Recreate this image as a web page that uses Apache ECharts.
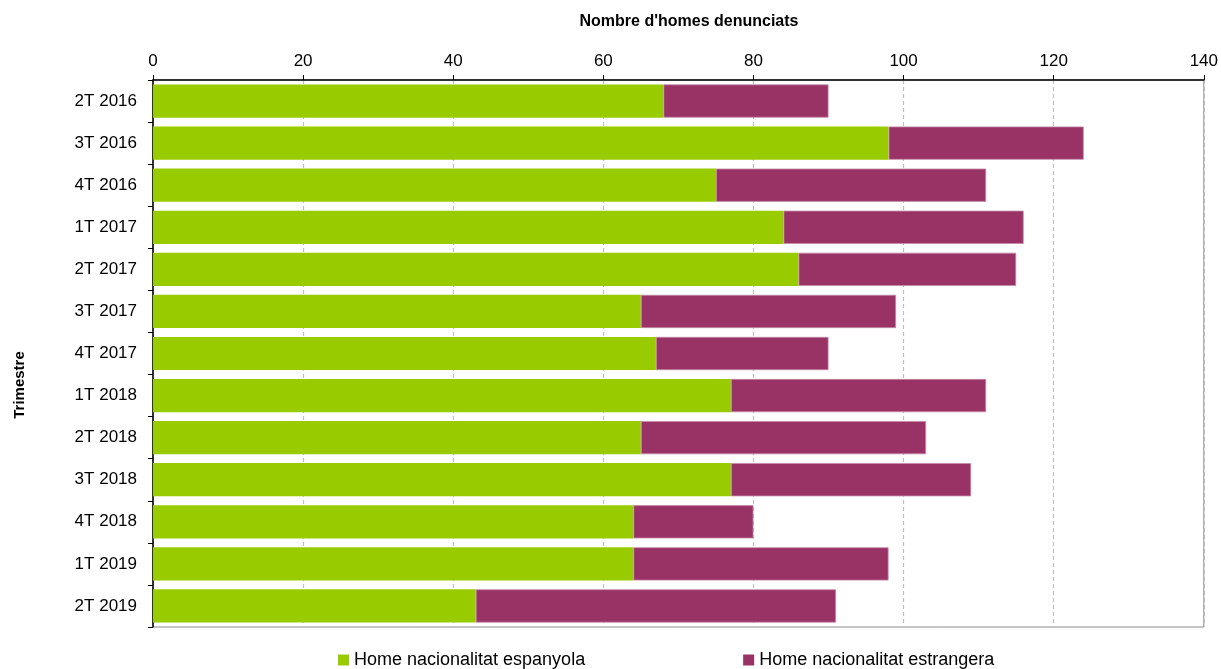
<!DOCTYPE html>
<html><head><meta charset="utf-8">
<script src="https://cdn.jsdelivr.net/npm/echarts@6/dist/echarts.min.js"></script>
<style>html,body{margin:0;padding:0;background:#fff}#c{width:1221px;height:669px}</style>
</head><body><div id="c"></div>
<script>
const categories = ["2T 2016","3T 2016","4T 2016","1T 2017","2T 2017","3T 2017","4T 2017","1T 2018","2T 2018","3T 2018","4T 2018","1T 2019","2T 2019"];
const espanyola = [68,98,75,84,86,65,67,77,65,77,64,64,43];
const estrangera = [22,26,36,32,29,34,23,34,38,32,16,34,48];
const seriesNames = ["Home nacionalitat espanyola","Home nacionalitat estrangera"];
const xTitle = "Nombre d'homes denunciats";
const yTitle = "Trimestre";

const FONT = "'Liberation Sans Narrow','Arial Narrow',Arial,sans-serif";
const chart = echarts.init(document.getElementById('c'));
chart.setOption({
  animation:false,
  textStyle:{fontFamily:FONT},
  grid:{left:153, right:15, top:80, bottom:42, show:true, borderColor:'#8c8c8c', borderWidth:1, backgroundColor:'#fff'},
  title:[
    {text:xTitle, left:684, top:9, textAlign:'center', textStyle:{fontFamily:FONT, fontSize:16, fontWeight:'bold', color:'#000'}},
  ],
  graphic:[{type:'text', x:20, y:385, rotation:Math.PI/2, style:{text:yTitle, font:"bold 15px "+FONT, fill:'#000', align:'center', verticalAlign:'middle'}}],
  legend:{left:333, top:646, itemWidth:11, itemHeight:11, itemGap:158, icon:'rect',
    itemStyle:{borderWidth:0},
    textStyle:{fontFamily:FONT, fontSize:18, color:'#000', padding:[2,0,0,0]}, data:seriesNames},
  xAxis:{type:'value', position:'top', min:0, max:140, interval:20,
    axisLine:{show:true, lineStyle:{color:'#000', width:1.5}},
    axisTick:{show:true, length:5, lineStyle:{color:'#000'}},
    axisLabel:{fontFamily:FONT, fontSize:17, color:'#000', margin:10},
    splitLine:{show:true, lineStyle:{type:[4,3], color:'#c0c0c0', width:1.2}}},
  yAxis:{type:'category', data:categories, inverse:true,
    axisLine:{show:true, lineStyle:{color:'#000', width:1.5}},
    axisTick:{show:true, length:5, lineStyle:{color:'#000'}},
    axisLabel:{fontFamily:FONT, fontSize:17, color:'#000', margin:16}},
  series:[
    {name:seriesNames[0], type:'bar', stack:'t', data:espanyola, barCategoryGap:'21%', itemStyle:{color:'#99cc00'}},
    {name:seriesNames[1], type:'bar', stack:'t', data:estrangera, itemStyle:{color:'#993366', borderColor:'#c58aa8', borderWidth:0.8}}
  ]
});
</script></body></html>
